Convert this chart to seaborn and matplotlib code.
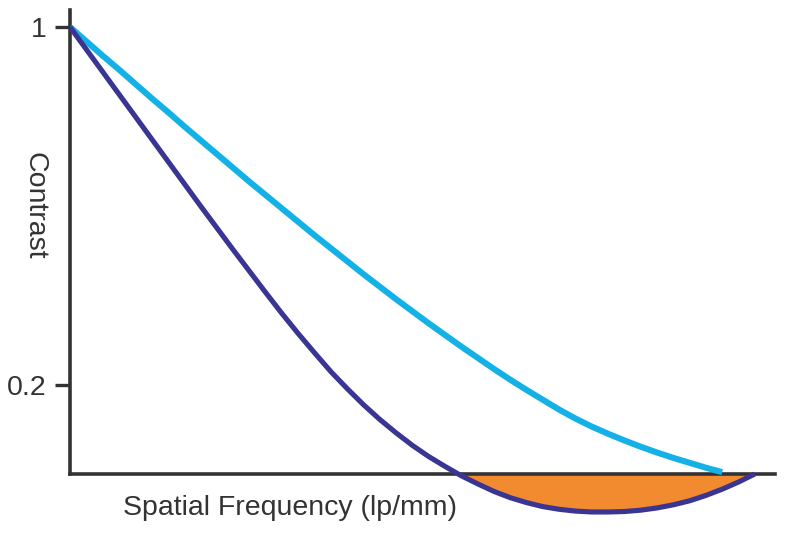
import seaborn as sns
import matplotlib.pyplot as plt
import pandas as pd
import numpy as np

# spatial frequency (arbitrary units, light blue cutoff = 100)
freq = [0, 2.5, 5, 7.5, 10, 12.5, 15, 17.5, 20, 22.5, 25, 27.5, 30, 32.5, 35, 37.5,
        40, 42.5, 45, 47.5, 50, 52.5, 55, 57.5, 60, 62.5, 65, 67.5, 70, 72.5, 75,
        77.5, 80, 82.5, 85, 87.5, 90, 92.5, 95, 97.5, 100]
# in-focus curve (light blue)
focused = [1.0, 0.968, 0.936, 0.905, 0.873, 0.841, 0.81, 0.778, 0.747, 0.716, 0.685,
           0.654, 0.624, 0.594, 0.564, 0.534, 0.505, 0.476, 0.447, 0.419, 0.391,
           0.364, 0.337, 0.311, 0.285, 0.26, 0.235, 0.211, 0.188, 0.166, 0.144,
           0.124, 0.106, 0.09, 0.075, 0.061, 0.048, 0.036, 0.025, 0.014, 0.004]

freq2 = [0, 2.5, 5, 7.5, 10, 12.5, 15, 17.5, 20, 22.5, 25, 27.5, 30, 32.5, 35, 37.5,
         40, 42.5, 45, 47.5, 50, 52.5, 55, 57.5, 60, 62.5, 65, 67.5, 70, 72.5, 75,
         77.5, 80, 82.5, 85, 87.5, 90, 92.5, 95, 97.5, 100, 102.5, 105]
# defocused curve (dark blue), goes negative past ~60
defocused = [1.0, 0.95, 0.90, 0.85, 0.80, 0.75, 0.70, 0.65, 0.60, 0.551, 0.502,
             0.454, 0.406, 0.359, 0.314, 0.271, 0.229, 0.191, 0.155, 0.122, 0.092,
             0.064, 0.039, 0.017, -0.004, -0.022, -0.039, -0.053, -0.064, -0.073, -0.079,
             -0.083, -0.085, -0.085, -0.084, -0.081, -0.076, -0.069, -0.06, -0.048, -0.034,
             -0.018, 0.0]

yticks = [0.2, 1]
yticklabels = ["0.2", "1"]

df1 = pd.DataFrame({"freq": freq, "contrast": focused})
df2 = pd.DataFrame({"freq": freq2, "contrast": defocused})

sns.set_style("white")
plt.rcParams['font.family'] = ['Liberation Sans', 'DejaVu Sans']

dark = "#333333"
fig = plt.figure(figsize=(7.87, 5.38), dpi=100)
ax = fig.add_axes([0.0889, 0.0193, 0.8959, 0.9621])

x2 = np.array(freq2)
y2 = np.array(defocused)
ax.fill_between(x2, y2, 0, where=y2 <= 0, interpolate=True,
                color="#F28A30", linewidth=0, zorder=1)

sns.lineplot(data=df1, x="freq", y="contrast", ax=ax, color="#14B1E7",
             linewidth=4.4, sort=False, zorder=3, solid_capstyle="butt")
sns.lineplot(data=df2, x="freq", y="contrast", ax=ax, color="#3A3592",
             linewidth=3.7, sort=False, zorder=4, solid_capstyle="butt")

ax.set_xlim(0, 108.1)
ax.set_ylim(-0.12, 1.038)

for s in ["top", "right"]:
    ax.spines[s].set_visible(False)
ax.spines["bottom"].set_position(("data", 0))
ax.spines["left"].set_bounds(0, 1.038)
for s in ["left", "bottom"]:
    ax.spines[s].set_color(dark)
    ax.spines[s].set_linewidth(2.6)
    ax.spines[s].set_zorder(2.5)

ax.set_xticks([])
ax.set_yticks(yticks)
ax.set_yticklabels(yticklabels)
ax.tick_params(axis="y", direction="out", length=11, width=2.4, color=dark,
               labelsize=20.5, labelcolor=dark, pad=6, left=True)

ax.set_xlabel("Spatial Frequency (lp/mm)", fontsize=20.5, color=dark, va="center")
ax.xaxis.set_label_coords(0.312, 0.038)
ax.set_ylabel("Contrast", fontsize=20.5, color=dark, rotation=270, va="center")
ax.yaxis.set_label_coords(-0.05, 0.621)

fig.savefig("out.png", dpi=100)
